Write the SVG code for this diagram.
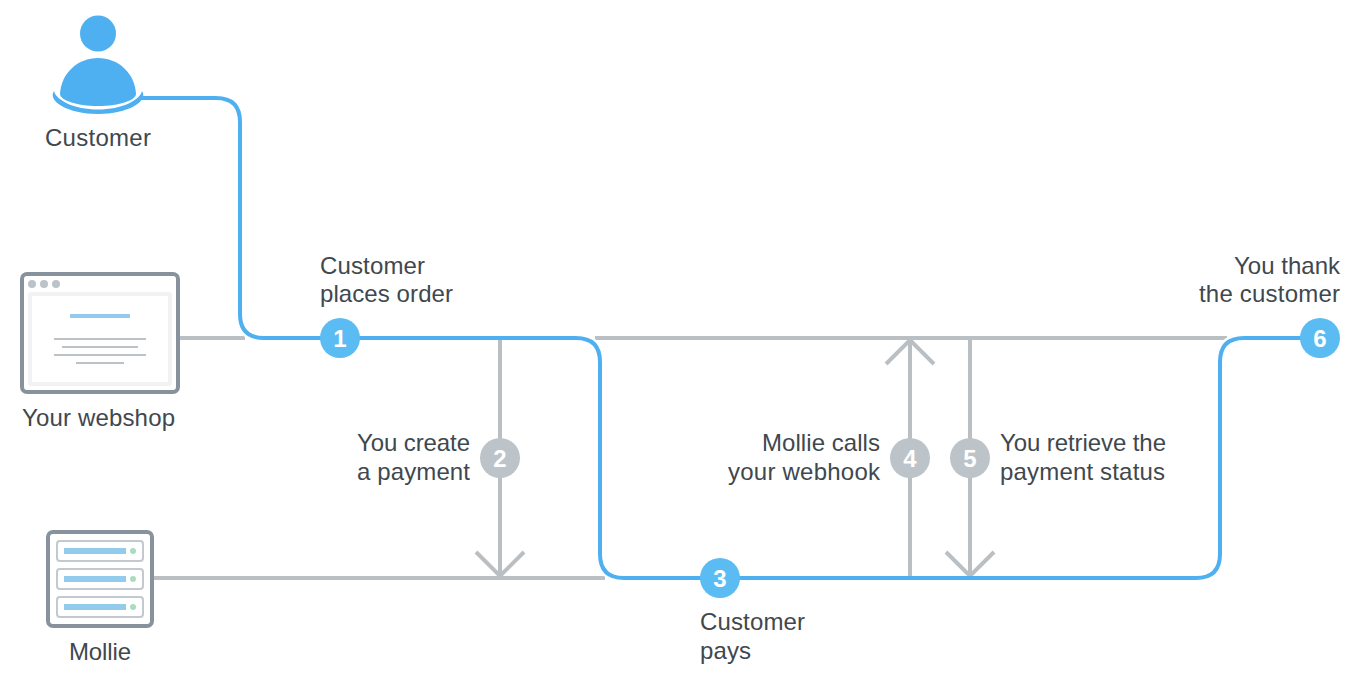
<svg xmlns="http://www.w3.org/2000/svg" width="1360" height="680" viewBox="0 0 1360 680">
<style>
.lbl{font-family:"Helvetica Neue","Liberation Sans",Arial,sans-serif;font-size:24px;fill:#3f484e}
.end{text-anchor:end}
.mid{text-anchor:middle}
.num{font-family:"Liberation Sans",Arial,sans-serif;font-size:24px;font-weight:700;fill:#fff;text-anchor:middle}
.g{fill:none;stroke:#b9bfc3;stroke-width:4}
.b{fill:none;stroke:#4eb0f0;stroke-width:4}
.halo{fill:none;stroke:#fff;stroke-width:9}
.cb{fill:#5bbcf3}
.cg{fill:#bcc4c9}
.frame{fill:#fff;stroke:#87929c;stroke-width:4}
.bar{fill:#93cbec}
.tl{fill:#bcc1c5}
.dot{fill:#a9ddc0}
.slot{fill:#fff;stroke:#c3c9ce;stroke-width:2}
</style>
<rect width="1360" height="680" fill="#fff"/>
<g id="connectors">
<path class="g" d="M178 338H245"/>
<path class="g" d="M595 338H1227"/>
<path class="g" d="M153 578H605"/>
<path class="g" d="M500 338V576"/>
<path class="g" d="M476 552L500 576L524 552"/>
<path class="g" d="M910 578V340"/>
<path class="g" d="M886 364L910 340L934 364"/>
<path class="g" d="M970 338V576"/>
<path class="g" d="M946 552L970 576L994 552"/>
<path class="halo" d="M240 314Q240 338 264 338"/>
<path class="halo" d="M576 338Q600 338 600 362"/>
<path class="halo" d="M600 554Q600 578 624 578"/>
<path class="halo" d="M1220 362Q1220 338 1244 338"/>
<path class="b" d="M140 98H216Q240 98 240 122V314Q240 338 264 338H576Q600 338 600 362V554Q600 578 624 578H1196Q1220 578 1220 554V362Q1220 338 1244 338H1320"/>
</g>
<g id="customer">
<circle cx="98" cy="33.500" r="18" fill="#4eb0f0"/>
<path d="M60 94C61 73 78 58 98 58C118 58 135 73 136 94C136 100 120 106 98 106C76 106 60 100 60 94Z" fill="#4eb0f0"/>
<path d="M54 91C47 101 68 114 98 114C128 114 149 101 142 91C140 100 122 109.500 98 109.500C74 109.500 56 100 54 91Z" fill="#4eb0f0"/>
<text class="lbl mid" x="98" y="146" textLength="106">Customer</text>
</g>
<g id="webshop">
<rect class="frame" x="22" y="274" width="156" height="118" rx="5"/>
<circle class="cg" cx="32" cy="284" r="4"/><circle class="cg" cx="44" cy="284" r="4"/><circle class="cg" cx="56" cy="284" r="4"/>
<rect x="30" y="294" width="140" height="90" fill="#fff" stroke="#f0f2f3" stroke-width="4" rx="1"/>
<rect class="bar" x="70" y="314" width="60" height="4"/>
<rect class="tl" x="54" y="338" width="92" height="2"/>
<rect class="tl" x="62" y="346" width="76" height="2"/>
<rect class="tl" x="54" y="354" width="92" height="2"/>
<rect class="tl" x="76" y="362" width="48" height="2"/>
<text class="lbl mid" x="98.500" y="426" textLength="153">Your webshop</text>
</g>
<g id="mollie">
<rect class="frame" x="48" y="532" width="104" height="94" rx="5"/>
<rect class="slot" x="57" y="541" width="86" height="20" rx="3"/>
<rect class="bar" x="64" y="548" width="62" height="6"/><circle class="dot" cx="133" cy="551" r="3"/>
<rect class="slot" x="57" y="569" width="86" height="20" rx="3"/>
<rect class="bar" x="64" y="576" width="62" height="6"/><circle class="dot" cx="133" cy="579" r="3"/>
<rect class="slot" x="57" y="597" width="86" height="20" rx="3"/>
<rect class="bar" x="64" y="604" width="62" height="6"/><circle class="dot" cx="133" cy="607" r="3"/>
<text class="lbl mid" x="100" y="660" textLength="62">Mollie</text>
</g>
<g id="step1"><circle class="cb" cx="340" cy="338" r="20"/><text class="num" x="340" y="346.500">1</text>
<text class="lbl" x="320" y="274" textLength="105">Customer</text><text class="lbl" x="320" y="302" textLength="133">places order</text></g>
<g id="step2"><circle class="cg" cx="500" cy="458" r="20"/><text class="num" x="500" y="466.500">2</text>
<text class="lbl end" x="470" y="451" textLength="113">You create</text><text class="lbl end" x="470" y="480" textLength="113">a payment</text></g>
<g id="step3"><circle class="cb" cx="720" cy="578" r="20"/><text class="num" x="720" y="586.500">3</text>
<text class="lbl" x="700" y="630" textLength="105">Customer</text><text class="lbl" x="700" y="659" textLength="51">pays</text></g>
<g id="step4"><circle class="cg" cx="910" cy="458" r="20"/><text class="num" x="910" y="466.500">4</text>
<text class="lbl end" x="880" y="451" textLength="118">Mollie calls</text><text class="lbl end" x="880" y="480" textLength="152">your webhook</text></g>
<g id="step5"><circle class="cg" cx="970" cy="458" r="20"/><text class="num" x="970" y="466.500">5</text>
<text class="lbl" x="1000" y="451" textLength="166">You retrieve the</text><text class="lbl" x="1000" y="480" textLength="165">payment status</text></g>
<g id="step6"><circle class="cb" cx="1320" cy="338" r="20"/><text class="num" x="1320" y="346.500">6</text>
<text class="lbl end" x="1340" y="274" textLength="106">You thank</text><text class="lbl end" x="1340" y="302" textLength="141">the customer</text></g>
</svg>
